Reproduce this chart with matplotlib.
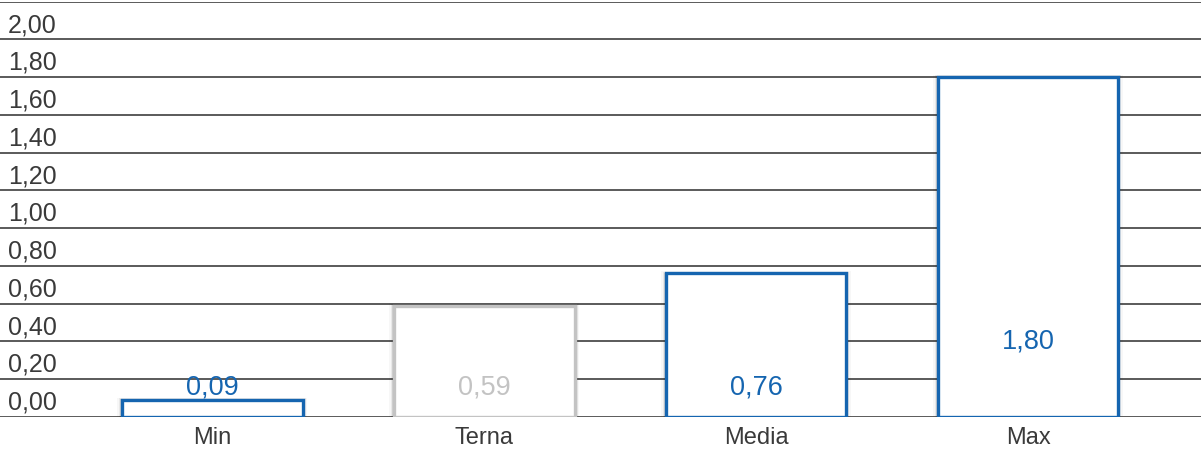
import matplotlib.pyplot as plt
import matplotlib.transforms as mtransforms

categorie = ["Min", "Terna", "Media", "Max"]
valori = [0.09, 0.59, 0.76, 1.80]
etichette = ["0,09", "0,59", "0,76", "1,80"]
tacche = [0.0, 0.2, 0.4, 0.6, 0.8, 1.0, 1.2, 1.4, 1.6, 1.8, 2.0]
tacche_lab = ["0,00", "0,20", "0,40", "0,60", "0,80", "1,00", "1,20", "1,40", "1,60", "1,80", "2,00"]

blu = "#1565b0"
grigio = "#c3c3c3"
colori = [blu, grigio, blu, blu]

plt.rcParams['font.family'] = ['Liberation Sans', 'DejaVu Sans']

fig = plt.figure(figsize=(12.01, 4.49), dpi=100)
ax = fig.add_axes([0, 32/449, 1, 415.5/449])
ax.set_xlim(-0.78, 3.636)
ax.set_ylim(0, 2.2)

# linee orizzontali
for t in tacche + [2.2]:
    ax.axhline(t, color="#5a5a5a", lw=1.4, zorder=1)

trans = mtransforms.blended_transform_factory(ax.transAxes, ax.transData)
for t, lab in zip(tacche, tacche_lab):
    ax.text(8/1201, t + 0.012, lab, transform=trans, ha="left", va="bottom",
            fontsize=18, color="#3a3a3a")

x = list(range(len(categorie)))
larg = 0.665
# ombra leggera
for dx, a in [(0.012, 0.10), (0.022, 0.06), (0.032, 0.03)]:
    ax.bar(x, [v + dx * 0.4 for v in valori], width=larg + dx, color="#000000",
           alpha=a, lw=0, zorder=2)
ax.bar(x, valori, width=larg, facecolor="white", edgecolor=colori, lw=2.4, zorder=3)

for i, (v, lab, c) in enumerate(zip(valori, etichette, colori)):
    yl = 0.40 if v > 1 else 0.155
    ax.text(i, yl, lab, ha="center", va="center", fontsize=19.5, color=c, zorder=4)

ax.set_xticks(x)
ax.set_xticklabels(categorie, fontsize=17, color="#3a3a3a")
ax.tick_params(axis="x", length=0, pad=7)
ax.set_yticks([])
for s in ax.spines.values():
    s.set_visible(False)

fig.savefig("out.png", dpi=100)
